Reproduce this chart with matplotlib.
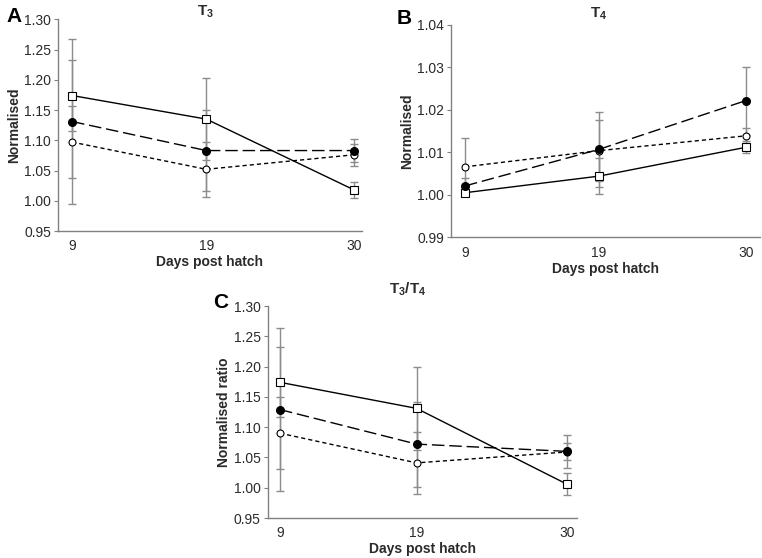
import matplotlib
matplotlib.use("Agg")
import matplotlib.pyplot as plt

plt.rcParams['font.family'] = ['Liberation Sans', 'DejaVu Sans']
plt.rcParams['mathtext.fontset'] = 'custom'
plt.rcParams['mathtext.rm'] = 'Liberation Sans'
plt.rcParams['mathtext.bf'] = 'Liberation Sans:bold'

days = [9, 19, 30]

# Panel A: T3
a_square = [1.174, 1.135, 1.018]
a_square_err = [0.058, 0.068, 0.0135]
a_filled = [1.131, 1.083, 1.083]
a_filled_err = [0.136, 0.067, 0.019]
a_open = [1.097, 1.052, 1.076]
a_open_err = [0.059, 0.045, 0.018]

# Panel B: T4
b_square = [1.0005, 1.0044, 1.0112]
b_square_err = [0.0006, 0.0042, 0.0014]
b_filled = [1.0021, 1.0107, 1.0222]
b_filled_err = [0.0018, 0.0089, 0.008]
b_open = [1.0066, 1.0104, 1.0139]
b_open_err = [0.0067, 0.0072, 0.0018]

# Panel C: T3/T4
c_square = [1.174, 1.131, 1.006]
c_square_err = [0.058, 0.069, 0.018]
c_filled = [1.129, 1.072, 1.060]
c_filled_err = [0.134, 0.070, 0.027]
c_open = [1.090, 1.041, 1.059]
c_open_err = [0.059, 0.051, 0.014]

a_yticks = [0.95, 1.00, 1.05, 1.10, 1.15, 1.20, 1.25, 1.30]
b_yticks = [0.99, 1.00, 1.01, 1.02, 1.03, 1.04]
c_yticks = a_yticks

W, H = 762, 558
fig = plt.figure(figsize=(W / 100, H / 100), dpi=100)


def px_axes(l, t, r, b):
    return fig.add_axes([l / W, 1 - b / H, (r - l) / W, (b - t) / H])


axA = px_axes(58, 19.3, 362, 231)
axB = px_axes(451, 25, 760, 237.3)
axC = px_axes(267.7, 306, 576.7, 518)

ERRC = '#8c8c8c'
SPC = '#808080'
TXT = '#2a2a2a'


def draw(ax, sq, sqe, fi, fie, op, ope, yticks, ylabel, xlim):
    for vals, errs in ((sq, sqe), (fi, fie), (op, ope)):
        ax.errorbar(days, vals, yerr=errs, fmt='none', ecolor=ERRC,
                    elinewidth=1.0, capsize=3.0, capthick=1.0, zorder=1)
    ax.plot(days, sq, color='black', lw=1.0, ls='-', marker='s', ms=5.5,
            mfc='white', mec='black', mew=0.8, zorder=3)
    ax.plot(days, fi, color='black', lw=1.0, ls=(0, (9, 3.5)), marker='o', ms=5.5,
            mfc='black', mec='black', zorder=4)
    ax.plot(days, op, color='black', lw=1.0, ls=(0, (3, 2.2)), marker='o', ms=5.0,
            mfc='white', mec='black', mew=0.8, zorder=3)
    ax.set_ylim(yticks[0], yticks[-1])
    ax.set_xlim(*xlim)
    ax.set_yticks(yticks)
    ax.set_yticklabels(['{:.2f}'.format(v) for v in yticks])
    ax.set_xticks(days)
    ax.set_xticklabels([str(d) for d in days])
    for s in ('top', 'right'):
        ax.spines[s].set_visible(False)
    for s in ('left', 'bottom'):
        ax.spines[s].set_color(SPC)
        ax.spines[s].set_linewidth(1.0)
    ax.tick_params(axis='y', length=3, color=SPC, labelsize=10, labelcolor=TXT, pad=2)
    ax.tick_params(axis='x', length=0, labelsize=10, labelcolor=TXT, pad=6)
    ax.set_xlabel('Days post hatch', fontsize=10, fontweight='bold', labelpad=1.5, color=TXT)
    ax.set_ylabel(ylabel, fontsize=10, fontweight='bold', labelpad=2, color=TXT)


draw(axA, a_square, a_square_err, a_filled, a_filled_err, a_open, a_open_err,
     a_yticks, 'Normalised', (7.95, 30.6))
draw(axB, b_square, b_square_err, b_filled, b_filled_err, b_open, b_open_err,
     b_yticks, 'Normalised', (7.95, 31.05))
draw(axC, c_square, c_square_err, c_filled, c_filled_err, c_open, c_open_err,
     c_yticks, 'Normalised ratio', (8.1, 30.73))


def ftext(x, y, s, **kw):
    fig.text(x / W, 1 - y / H, s, **kw)


ftext(206, 12, r'T$_\mathbf{3}$', fontsize=11, fontweight='bold', ha='center', va='center', color=TXT)
ftext(599, 14, r'T$_\mathbf{4}$', fontsize=11, fontweight='bold', ha='center', va='center', color=TXT)
ftext(408, 289, r'T$_\mathbf{3}$/T$_\mathbf{4}$', fontsize=11, fontweight='bold', ha='center', va='center', color=TXT)

ftext(14, 16, 'A', fontsize=15, fontweight='bold', ha='center', va='center', color='black')
ftext(404, 19, 'B', fontsize=15, fontweight='bold', ha='center', va='center', color='black')
ftext(221, 303, 'C', fontsize=15, fontweight='bold', ha='center', va='center', color='black')

fig.savefig('out.png', dpi=100)
